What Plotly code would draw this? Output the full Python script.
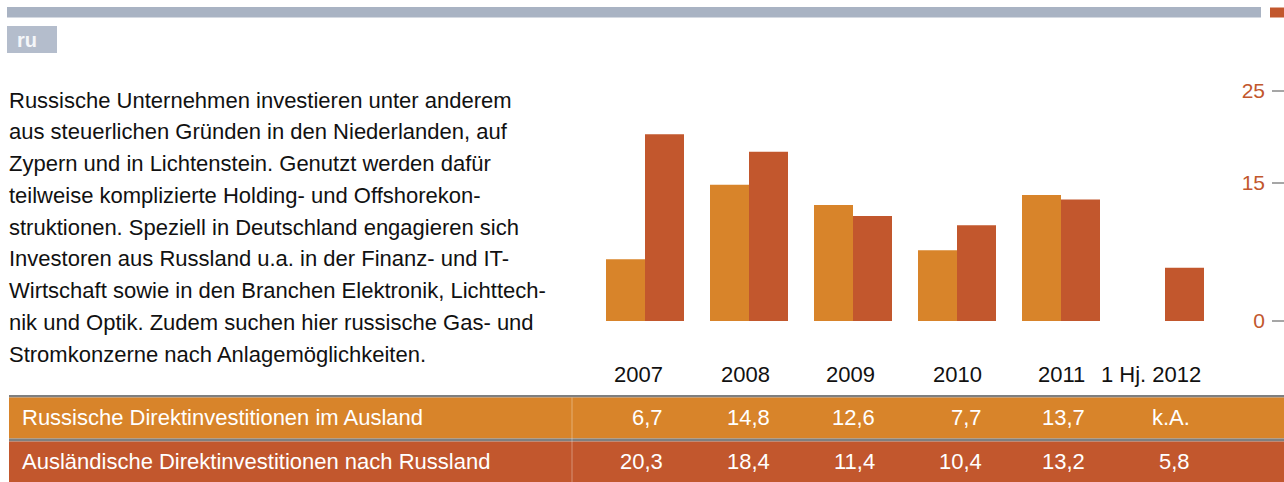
import plotly.graph_objects as go

W, H = 1284, 482

# ---- data ----
categories = ["2007", "2008", "2009", "2010", "2011", "1 Hj. 2012"]
outward_fdi = [6.7, 14.8, 12.6, 7.7, 13.7, None]      # Russische Direktinvestitionen im Ausland
inward_fdi = [20.3, 18.4, 11.4, 10.4, 13.2, 5.8]      # Ausländische Direktinvestitionen nach Russland
series_names = ["Russische Direktinvestitionen im Ausland",
                "Ausländische Direktinvestitionen nach Russland"]
y_ticks = [0, 15, 25]
missing_label = "k.A."
country_code = "ru"
paragraph = [
    "Russische Unternehmen investieren unter anderem",
    "aus steuerlichen Gründen in den Niederlanden, auf",
    "Zypern und in Lichtenstein. Genutzt werden dafür",
    "teilweise komplizierte Holding- und Offshorekon-",
    "struktionen. Speziell in Deutschland engagieren sich",
    "Investoren aus Russland u.a. in der Finanz- und IT-",
    "Wirtschaft sowie in den Branchen Elektronik, Lichttech-",
    "nik und Optik. Zudem suchen hier russische Gas- und",
    "Stromkonzerne nach Anlagemöglichkeiten.",
]

# ---- style ----
ORANGE = "#d8842a"
RED = "#c2572d"
BLUEGRAY = "#a9b3c3"
RU_BOX = "#b4bdcc"
SEP = "#7f7f7f"
FONT = "Liberation Sans Narrow, Arial Narrow, Liberation Sans, Arial, sans-serif"
# right-edge offsets (px) of table columns relative to the category centre
value_shift = [20, 23, 24, 27, 26, 27]
header_shift = [20, 23, 24, 27, 26, 38]


def px(x):
    return x / W


def py(y):
    return 1 - y / H


fig = go.Figure()
fig.add_bar(x=categories, y=outward_fdi, name=series_names[0],
            marker=dict(color=ORANGE, line=dict(width=0)))
fig.add_bar(x=categories, y=inward_fdi, name=series_names[1],
            marker=dict(color=RED, line=dict(width=0)))

shapes = []


def rect(x0, y0, x1, y1, color):
    shapes.append(dict(type="rect", xref="paper", yref="paper",
                       x0=px(x0), x1=px(x1), y0=py(y1), y1=py(y0),
                       fillcolor=color, line=dict(width=0), layer="below"))


# header bar + marker
rect(7, 7, 1261, 17.5, BLUEGRAY)
rect(1270, 7.5, 1284, 17.5, RED)
# country box
rect(7, 26, 57, 53, RU_BOX)
# table rows
rect(9, 395, 1284, 397.5, SEP)
rect(9, 397.5, 1284, 438.5, ORANGE)
rect(9, 438.5, 1284, 441.5, SEP)
rect(9, 441.5, 1284, 482, RED)
shapes.append(dict(type="line", xref="paper", yref="paper",
                   x0=px(572), x1=px(572), y0=py(397.5), y1=py(482),
                   line=dict(color="rgba(255,255,255,0.35)", width=1)))

annotations = []
annotations.append(dict(text="<b>" + country_code + "</b>", xref="paper", yref="paper",
                        x=px(15), y=py(40), xanchor="left", yanchor="middle",
                        showarrow=False, font=dict(family="Liberation Sans, Arial", size=20, color="#f4f6f9")))

for i, line in enumerate(paragraph):
    annotations.append(dict(text=line, xref="paper", yref="paper",
                            x=px(7), y=py(100 + 31.75 * i), xanchor="left", yanchor="middle",
                            showarrow=False, font=dict(family=FONT, size=22, color="#111111")))

# column headers (years), positioned on the category axis
for i, c in enumerate(categories):
    annotations.append(dict(text=c, xref="x", yref="paper", x=i, xshift=header_shift[i],
                            y=py(374), xanchor="right", yanchor="middle",
                            showarrow=False, font=dict(family=FONT, size=22, color="#111111")))

# table rows
row_centers = [417.5, 461.5]
for name, vals, yc in zip(series_names, [outward_fdi, inward_fdi], row_centers):
    annotations.append(dict(text=name, xref="paper", yref="paper", x=px(20), y=py(yc),
                            xanchor="left", yanchor="middle", showarrow=False,
                            font=dict(family=FONT, size=22, color="white")))
    for i, v in enumerate(vals):
        t = missing_label if v is None else f"{v:.1f}".replace(".", ",")
        annotations.append(dict(text=t, xref="x", yref="paper", x=i, xshift=value_shift[i],
                                y=py(yc), xanchor="right", yanchor="middle", showarrow=False,
                                font=dict(family=FONT, size=22, color="white")))

# y scale: 9.2 px per unit, zero at 321 px; small padding so edge ticks stay visible
k = 9.2
pad = 0.4
fig.update_layout(
    width=W, height=H,
    margin=dict(l=0, r=0, t=0, b=0, autoexpand=False),
    paper_bgcolor="white", plot_bgcolor="white",
    showlegend=False,
    barmode="group", bargap=0.25, bargroupgap=0,
    xaxis=dict(type="category", domain=[px(593), px(1217)], range=[-0.5, 5.5],
               showticklabels=False, ticks="", showline=False, showgrid=False, zeroline=False),
    yaxis=dict(domain=[py(321 + pad * k), py(321 - (25 + pad) * k)], range=[-pad, 25 + pad],
               anchor="free", position=px(1271), side="left",
               tickvals=y_ticks, ticks="inside", ticklen=12, tickwidth=2, tickcolor="#a6a6a6",
               ticklabelstandoff=6,
               tickfont=dict(family=FONT, size=21, color=RED),
               showline=False, showgrid=False, zeroline=False),
    shapes=shapes,
    annotations=annotations,
)

fig.write_html(
    "out.html",
    config={"displayModeBar": False},
    post_script="document.body.style.margin='0';document.body.style.overflow='hidden';",
)
